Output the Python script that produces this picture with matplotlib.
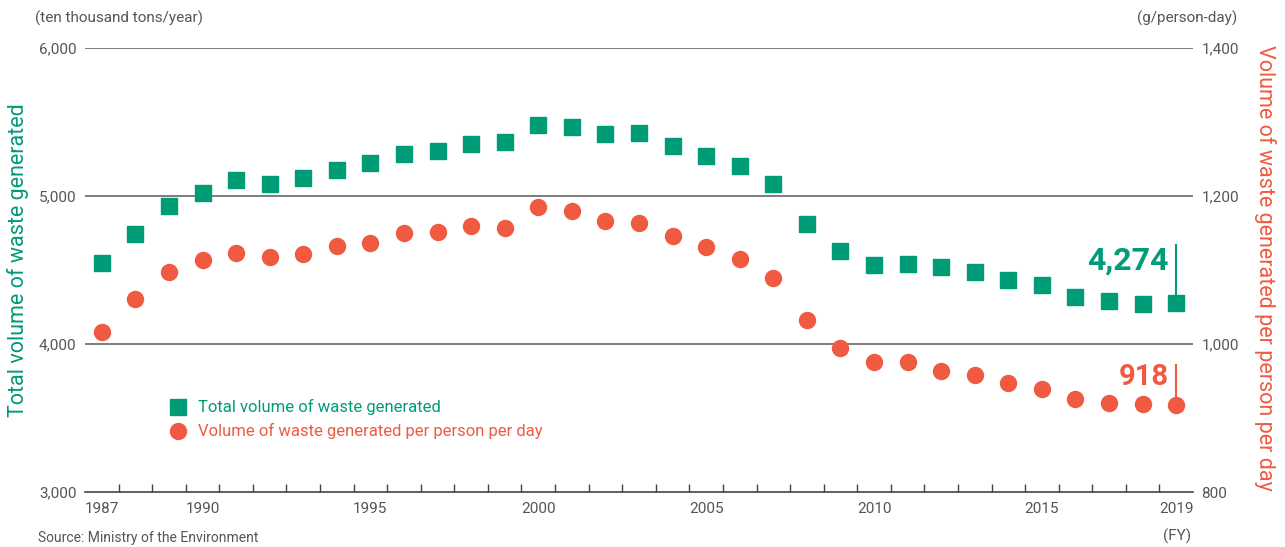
import matplotlib.pyplot as plt
import numpy as np

# Data (FY 1987 - 2019)
years = np.arange(1987, 2020)
total_waste = [4550, 4745, 4930, 5020, 5108, 5080, 5122, 5176, 5223, 5284,
               5304, 5351, 5365, 5483, 5468, 5420, 5427, 5338, 5272, 5202,
               5082, 4811, 4625, 4536, 4543, 4523, 4487, 4432, 4398, 4317,
               4289, 4272, 4274]
per_person = [1016, 1061, 1097, 1114, 1123, 1118, 1122, 1132, 1136, 1150,
              1151, 1159, 1157, 1185, 1180, 1166, 1163, 1146, 1131, 1115,
              1089, 1033, 994, 976, 976, 964, 958, 947, 939, 925,
              920, 919, 918]
year_labels = [1987, 1990, 1995, 2000, 2005, 2010, 2015, 2019]

green = '#009b77'
red = '#f05a40'
grey = '#555555'

plt.rcParams['font.family'] = ['Roboto', 'DejaVu Sans']

fig = plt.figure(figsize=(12.85, 5.47), dpi=100)
ax = fig.add_axes([85/1285, 55/547, 1108/1285, 444/547])
ax2 = ax.twinx()

# Left axis - total volume
ax.set_ylim(3000, 6000)
ax.set_xlim(1986.5, 2019.5)
ax.set_yticks([3000, 4000, 5000, 6000])
ax.set_yticklabels(['3,000', '4,000', '5,000', '6,000'], color=grey, fontsize=11)
for v in [4000, 5000, 6000]:
    ax.axhline(v, color='#666666', linewidth=1.2, zorder=1)

# Right axis - per person per day
ax2.set_ylim(800, 1400)
ax2.set_yticks([800, 1000, 1200, 1400])
ax2.set_yticklabels(['800', '1,000', '1,200', '1,400'], color=grey, fontsize=11)

for a in (ax, ax2):
    for s in ['top', 'left', 'right']:
        a.spines[s].set_visible(False)
    a.tick_params(axis='y', length=0, pad=6)
ax.spines['bottom'].set_color('#444444')
ax.spines['bottom'].set_linewidth(1.2)
ax2.spines['bottom'].set_visible(False)

# X ticks: labels at years, small inward ticks between years
ax.set_xticks(year_labels)
ax.set_xticklabels([str(y) for y in year_labels], color=grey, fontsize=11)
ax.set_xticks(np.arange(1987.5, 2019, 1), minor=True)
ax.tick_params(axis='x', which='major', length=0, pad=7)
ax.tick_params(axis='x', which='minor', direction='in', length=6, color='#444444', width=1)

# Series
ax.plot(years, total_waste, linestyle='none', marker='s', markersize=11,
        color=green, zorder=3, label='Total volume of waste generated')
ax2.plot(years, per_person, linestyle='none', marker='o', markersize=11.5,
         color=red, zorder=3, label='Volume of waste generated per person per day')

# Annotations for latest values
ax.plot([years[-1], years[-1]], [total_waste[-1], 4670], color=green, linewidth=1.5, zorder=2)
ax.text(years[-1] - 0.22, 4460, '4,274', color=green, fontsize=23, fontweight='bold',
        ha='right', va='bottom')
ax2.plot([years[-1], years[-1]], [per_person[-1], 972], color=red, linewidth=1.5, zorder=2)
ax2.text(years[-1] - 0.22, 936, '918', color=red, fontsize=21, fontweight='bold',
         ha='right', va='bottom')

# Legend
h1, l1 = ax.get_legend_handles_labels()
h2, l2 = ax2.get_legend_handles_labels()
leg = ax2.legend(h1 + h2, l1 + l2, loc='upper left', bbox_to_anchor=(0.069, 0.2236),
                 frameon=False, fontsize=12, handletextpad=0.6, labelspacing=0.48,
                 handlelength=1.2, borderaxespad=0)
for txt, c in zip(leg.get_texts(), [green, red]):
    txt.set_color(c)

# Axis labels and units
fig.text(18/1285, 1 - 260/547, 'Total volume of waste generated', color=green,
         fontsize=15.5, rotation=90, ha='center', va='center')
fig.text(1265/1285, 1 - 268/547, 'Volume of waste generated per person per day', color=red,
         fontsize=15.5, rotation=270, ha='center', va='center')
fig.text(35/1285, 1 - 18/547, '(ten thousand tons/year)', color=grey, fontsize=11,
         ha='left', va='center')
fig.text(1237/1285, 1 - 18/547, '(g/person-day)', color=grey, fontsize=11,
         ha='right', va='center')
fig.text(1191/1285, 1 - 536/547, '(FY)', color=grey, fontsize=11, ha='right', va='center')
fig.text(38/1285, 1 - 545/547, 'Source: Ministry of the Environment', color=grey,
         fontsize=10, ha='left', va='bottom')

fig.savefig('out.png', dpi=100)
